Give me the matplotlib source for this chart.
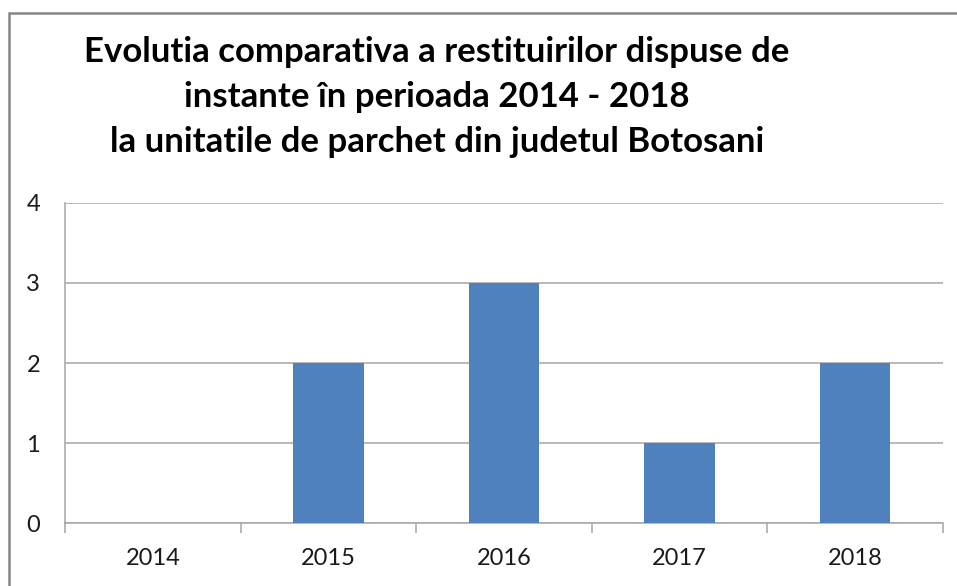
import matplotlib
matplotlib.use("Agg")
import matplotlib.pyplot as plt
from matplotlib.patches import Rectangle
from matplotlib.ticker import FixedLocator

# date
ani = ["2014", "2015", "2016", "2017", "2018"]
restituiri = [0, 2, 3, 1, 2]
titlu = [
    "Evolutia comparativa a restituirilor dispuse de",
    "instante în perioada 2014 - 2018",
    "la unitatile de parchet din judetul Botosani",
]

plt.rcParams["font.family"] = ["Lato", "DejaVu Sans"]

W, H = 957, 586
fig = plt.figure(figsize=(W / 100, H / 100), dpi=100)

# chenarul graficului
fig.patches.append(Rectangle((9 / W, -0.1), 1.0, 1 - 13 / H + 0.1, transform=fig.transFigure,
                             fill=False, edgecolor="#868686", linewidth=1.8))

ax = fig.add_axes([65 / W, (H - 523) / H, 878 / W, 320 / H])
x = range(len(ani))
ax.bar(x, restituiri, width=0.4, color="#4F81BD", zorder=3)

ax.set_xlim(-0.5, len(ani) - 0.5)
ax.set_ylim(0, 4)
ax.set_yticks([0, 1, 2, 3, 4])
ax.set_xticks(list(x))
ax.set_xticklabels(ani)
ax.xaxis.set_minor_locator(FixedLocator([i - 0.5 for i in range(len(ani) + 1)]))

ax.grid(axis="y", color="#A6A6A6", linewidth=1.1, zorder=0)
for s in ["top", "right"]:
    ax.spines[s].set_visible(False)
ax.spines["left"].set_color("#A6A6A6")
ax.spines["bottom"].set_color("#A6A6A6")
ax.spines["left"].set_linewidth(1.1)
ax.spines["bottom"].set_linewidth(1.1)

ax.tick_params(axis="y", length=0, pad=18, labelsize=17, labelcolor="#1a1a1a")
ax.tick_params(axis="x", which="major", length=0, pad=18, labelsize=17, labelcolor="#1a1a1a")
ax.tick_params(axis="x", which="minor", length=7, width=1.1, color="#A6A6A6")

for i, linie in enumerate(titlu):
    fig.text(437 / W, 1 - (52 + 45 * i) / H, linie, ha="center", va="center",
             fontsize=25, fontweight="bold", color="black")

fig.savefig("out.png", dpi=100)
